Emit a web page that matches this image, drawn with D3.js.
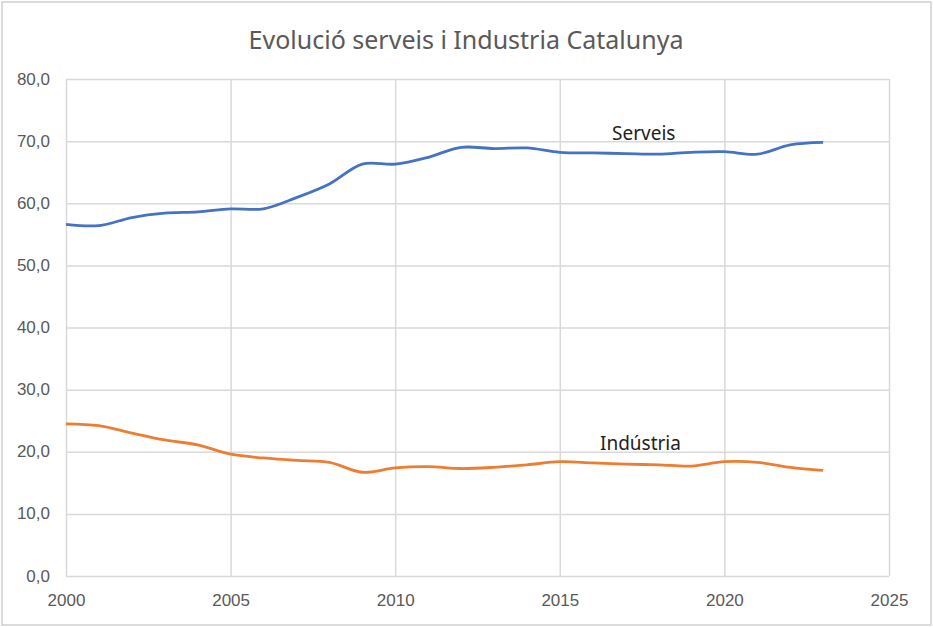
<!DOCTYPE html>
<html>
<head>
  <meta charset="utf-8">
  <title>Evolució serveis i Industria Catalunya</title>
  <script src="https://d3js.org/d3.v7.min.js"></script>
  <style>
    body { margin: 0; background: #fff; }
    svg { font-family: "Noto Sans", "Open Sans", sans-serif; }
    .grid line { stroke: #d9d9d9; stroke-width: 1.5px; }
    .grid .tick text { fill: #595959; font-size: 17px; }
    .title { fill: #595959; font-size: 25px; }
    .label { fill: #222; font-size: 19px; }
  </style>
</head>
<body>
  <svg width="933" height="627"></svg>
  <script>
    const years = d3.range(2000, 2024)
    const serveis = [56.6, 56.4, 57.7, 58.4, 58.6, 59.1, 59.1, 60.9, 63.1, 66.3, 66.3, 67.4,
      69.0, 68.8, 68.9, 68.2, 68.1, 68.0, 67.9, 68.2, 68.3, 67.9, 69.4, 69.8]
    const industria = [24.5, 24.2, 23.0, 21.9, 21.1, 19.6, 19.0, 18.6, 18.3, 16.7, 17.4, 17.6,
      17.3, 17.5, 17.9, 18.4, 18.2, 18.0, 17.9, 17.7, 18.4, 18.3, 17.5, 17.0]
    const xTicks = [2000, 2005, 2010, 2015, 2020, 2025]
    const yTicks = [0, 10, 20, 30, 40, 50, 60, 70, 80]

    const svg = d3.select("svg")
    const margin = { left: 66, right: 44, top: 79, bottom: 51 }
    const width = 933, height = 627

    // outer chart frame
    svg.append("rect")
      .attr("x", 2).attr("y", 2).attr("width", width - 4).attr("height", height - 4)
      .attr("fill", "none").attr("stroke", "#d0d0d0").attr("stroke-width", 1.5)

    const x = d3.scaleLinear().domain([2000, 2025]).range([margin.left, width - margin.right])
    const y = d3.scaleLinear().domain([0, 80]).range([height - margin.bottom, margin.top])

    const fmt = d => d.toFixed(1).replace(".", ",")

    // horizontal grid + y labels
    svg.append("g")
      .attr("class", "grid")
      .attr("transform", `translate(${margin.left},0)`)
      .call(d3.axisLeft(y).tickValues(yTicks).tickFormat(fmt)
        .tickSize(-(width - margin.left - margin.right)).tickPadding(16))
      .call(g => g.select(".domain").remove())
      .call(g => g.selectAll(".tick text").attr("dy", "0.3em"))

    // vertical grid + x labels
    svg.append("g")
      .attr("class", "grid")
      .attr("transform", `translate(0,${height - margin.bottom})`)
      .call(d3.axisBottom(x).tickValues(xTicks).tickFormat(d3.format("d"))
        .tickSize(-(height - margin.top - margin.bottom)).tickPadding(18))
      .call(g => g.select(".domain").remove())

    const line = d3.line()
      .x((d, i) => x(years[i]))
      .y(d => y(d))
      .curve(d3.curveCatmullRom.alpha(0.5))

    svg.append("path").datum(serveis)
      .attr("fill", "none").attr("stroke", "#4472c4").attr("stroke-width", 2.8)
      .attr("d", line)

    svg.append("path").datum(industria)
      .attr("fill", "none").attr("stroke", "#ed7d31").attr("stroke-width", 2.8)
      .attr("d", line)

    svg.append("text").attr("class", "title")
      .attr("x", 466).attr("y", 49).attr("text-anchor", "middle")
      .text("Evolució serveis i Industria Catalunya")

    svg.append("text").attr("class", "label")
      .attr("x", x(2017.55)).attr("y", y(70) - 1).attr("text-anchor", "middle")
      .text("Serveis")

    svg.append("text").attr("class", "label")
      .attr("x", x(2017.45)).attr("y", y(20) - 2).attr("text-anchor", "middle")
      .text("Indústria")
  </script>
</body>
</html>
